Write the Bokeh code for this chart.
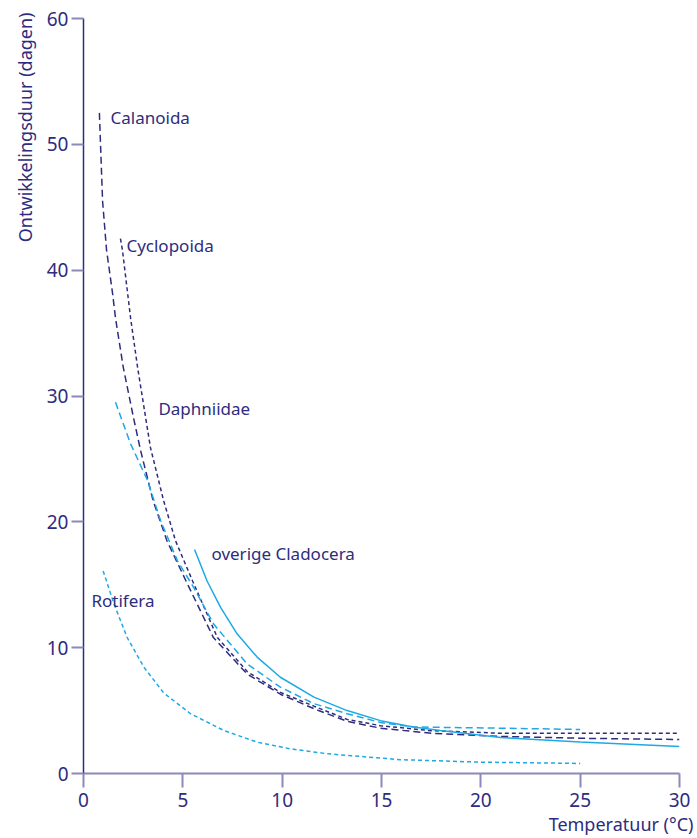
from bokeh.plotting import figure
from bokeh.models import Range1d, Title, FixedTicker
from bokeh.core.properties import value
from bokeh.embed import file_html
from bokeh.resources import INLINE

# ---- data ----
cal_x = [0.8, 0.96, 1.16, 1.46, 1.61, 2.0, 2.5, 2.87, 3.5, 4.2, 5.22, 6.54, 8.24, 9.91, 11.6, 13.27, 14.95, 17.5, 21.0, 25.0, 30.0]
cal_y = [52.5, 45.5, 41.6, 38.2, 36.2, 32.3, 28.4, 25.7, 21.7, 18.5, 15.1, 10.8, 7.9, 6.3, 5.15, 4.15, 3.6, 3.2, 2.95, 2.8, 2.7]

cyc_x = [1.86, 1.96, 2.37, 2.72, 3.37, 4.03, 4.63, 5.49, 6.74, 8.24, 9.91, 11.6, 13.27, 14.95, 17.5, 21.0, 25.0, 30.0]
cyc_y = [42.5, 41.6, 36.2, 32.3, 25.9, 21.7, 18.5, 15.3, 10.8, 8.1, 6.45, 5.35, 4.3, 3.8, 3.4, 3.2, 3.2, 3.2]

dap_x = [1.61, 2.37, 3.22, 3.88, 4.73, 5.54, 6.54, 8.24, 9.91, 11.6, 13.27, 14.95, 16.6, 21.0, 25.0]
dap_y = [29.5, 26.2, 23.3, 20.1, 16.9, 14.8, 11.9, 8.7, 6.86, 5.55, 4.75, 4.05, 3.7, 3.6, 3.5]

ove_x = [5.59, 6.22, 6.9, 7.73, 8.74, 9.91, 11.6, 13.27, 14.95, 16.6, 17.97, 21.0, 25.0, 30.0]
ove_y = [17.8, 15.3, 13.2, 11.1, 9.25, 7.65, 6.07, 5.0, 4.2, 3.7, 3.42, 2.86, 2.5, 2.15]

rot_x = [0.99, 1.53, 2.2, 3.04, 4.04, 5.39, 7.06, 8.74, 10.42, 12.26, 15.95, 20.0, 25.0]
rot_y = [16.1, 13.5, 10.8, 8.45, 6.4, 4.75, 3.42, 2.49, 1.96, 1.57, 1.1, 0.9, 0.8]

label_names = ["Calanoida", "Cyclopoida", "Daphniidae", "overige Cladocera", "Rotifera"]
label_x = [1.36, 2.16, 3.77, 6.44, 0.40]
label_y = [52.1, 42.0, 29.0, 17.5, 13.75]

x_ticks = [0, 5, 10, 15, 20, 25, 30]
y_ticks = [0, 10, 20, 30, 40, 50, 60]

NAVY = "#2e2c7e"
CYAN = "#1fa9e4"
LIGHT = "#8c89ba"
FONT = "Noto Sans"

p = figure(frame_width=596, frame_height=755,
           min_border_left=83, min_border_top=18, min_border_right=18, min_border_bottom=65,
           x_range=Range1d(0, 30), y_range=Range1d(0, 60),
           output_backend="svg", toolbar_location=None)
p.outline_line_color = None
p.grid.grid_line_color = None
p.background_fill_color = "white"
p.border_fill_color = "white"

p.xaxis.ticker = FixedTicker(ticks=x_ticks)
p.yaxis.ticker = FixedTicker(ticks=y_ticks)
for ax in (p.xaxis, p.yaxis):
    ax.minor_tick_line_color = None
    ax.major_tick_in = 0
    ax.major_label_text_color = NAVY
    ax.major_label_text_font = FONT
    ax.major_label_text_font_size = "19px"
    ax.major_tick_line_color = LIGHT
    ax.major_tick_line_width = 2
p.xaxis.axis_line_color = LIGHT
p.xaxis.axis_line_width = 2
p.xaxis.major_tick_out = 14
p.xaxis.major_label_standoff = 5
p.yaxis.axis_line_color = NAVY
p.yaxis.axis_line_width = 1.5
p.yaxis.major_tick_out = 12
p.yaxis.major_label_standoff = 3

lw = 1.5
p.line(cal_x, cal_y, line_color=NAVY, line_width=lw, line_dash="7 4")
p.line(cyc_x, cyc_y, line_color=NAVY, line_width=lw, line_dash="4 3")
p.line(dap_x, dap_y, line_color=CYAN, line_width=lw, line_dash="7 4")
p.line(ove_x, ove_y, line_color=CYAN, line_width=lw)
p.line(rot_x, rot_y, line_color=CYAN, line_width=lw, line_dash="4 3")

p.text(x=label_x, y=label_y, text=label_names, text_color=NAVY,
       text_font=value(FONT), text_font_size="17px",
       text_align="left", text_baseline="middle")

p.add_layout(Title(text="Temperatuur (°C)", align="right", offset=-14,
                   text_color=NAVY, text_font=FONT, text_font_size="18px",
                   text_font_style="normal", standoff=0), "below")
p.add_layout(Title(text="Ontwikkelingsduur (dagen)", align="right", offset=-6,
                   text_color=NAVY, text_font=FONT, text_font_size="18px",
                   text_font_style="normal", standoff=14), "left")

open("out.html", "w").write(file_html(p, INLINE))
